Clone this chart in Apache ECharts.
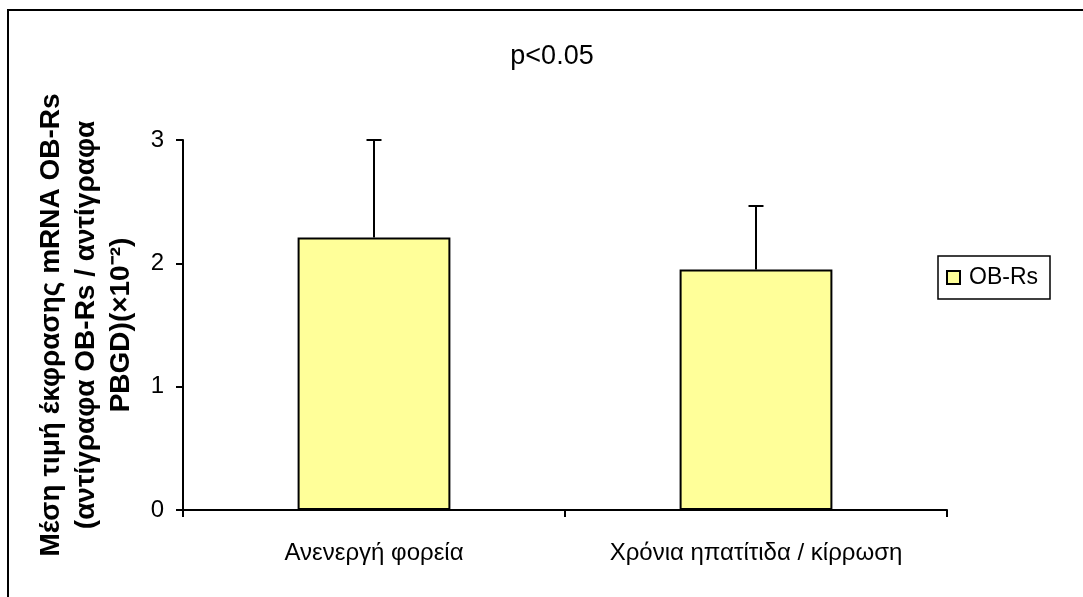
<!DOCTYPE html>
<html>
<head>
<meta charset="utf-8">
<script src="https://cdn.jsdelivr.net/npm/echarts@6/dist/echarts.min.js"></script>
<style>
  html, body { margin: 0; padding: 0; background: #fff; }
  #chart { width: 1083px; height: 597px; }
</style>
</head>
<body>
<div id="chart"></div>
<script>
// 数据
var categories = ['Ανενεργή φορεία', 'Χρόνια ηπατίτιδα / κίρρωση'];
var means = [2.21, 1.95];
var upperErr = [3.0, 2.465];   // μέση τιμή + SD
var yTicks = [0, 1, 2, 3];

var FONT = '"Liberation Sans", Arial, sans-serif';

var errData = [];
for (var i = 0; i < categories.length; i++) {
    errData.push([i, means[i], upperErr[i]]);
}

var chart = echarts.init(document.getElementById('chart'));
chart.setOption({
    animation: false,
    backgroundColor: '#fff',
    textStyle: { fontFamily: FONT, color: '#000' },
    title: {
        text: 'p<0.05',
        left: 547,
        top: 38,
        textAlign: 'center',
        textStyle: { fontFamily: FONT, fontSize: 27, fontWeight: 'normal', color: '#000' }
    },
    graphic: [{
        type: 'rect',
        shape: { x: 8, y: 10, width: 1200, height: 700 },
        style: { fill: 'none', stroke: '#000', lineWidth: 2 },
        silent: true
    }],
    legend: {
        data: ['OB-Rs'],
        left: 938,
        top: 256,
        orient: 'vertical',
        icon: 'rect',
        itemWidth: 13,
        itemHeight: 13,
        itemGap: 0,
        padding: [10, 12, 10, 8],
        borderColor: '#000',
        borderWidth: 1.5,
        selectedMode: false,
        textStyle: { fontFamily: FONT, fontSize: 23, color: '#000', padding: [0, 0, 0, 4] }
    },
    grid: { left: 183, right: 136, top: 140, bottom: 87, containLabel: false },
    xAxis: {
        type: 'category',
        data: categories,
        boundaryGap: true,
        axisLine: { lineStyle: { color: '#000', width: 2 } },
        axisTick: { show: true, length: 7, inside: false, alignWithLabel: false, lineStyle: { color: '#000', width: 2 } },
        axisLabel: { fontFamily: FONT, fontSize: 24, color: '#000', margin: 31 },
        splitLine: { show: false }
    },
    yAxis: {
        type: 'value',
        min: yTicks[0],
        max: yTicks[yTicks.length - 1],
        interval: 1,
        name: 'Μέση τιμή έκφρασης mRNA OB-Rs\n(αντίγραφα OB-Rs / αντίγραφα\nPBGD)(×10⁻²)',
        nameLocation: 'middle',
        nameGap: 44,
        nameTextStyle: { fontFamily: FONT, fontSize: 28, fontWeight: 'bold', color: '#000', lineHeight: 35, align: 'center' },
        axisLine: { show: true, lineStyle: { color: '#000', width: 2 } },
        axisTick: { show: true, length: 7, lineStyle: { color: '#000', width: 2 } },
        axisLabel: { fontFamily: FONT, fontSize: 24, color: '#000', margin: 19 },
        splitLine: { show: false }
    },
    series: [{
        name: 'OB-Rs',
        type: 'bar',
        data: means,
        barWidth: '40%',
        itemStyle: { color: '#FFFF99', borderColor: '#000', borderWidth: 2 },
        z: 2
    }, {
        type: 'custom',
        data: errData,
        z: 3,
        renderItem: function (params, api) {
            var base = api.coord([api.value(0), api.value(1)]);
            var top = api.coord([api.value(0), api.value(2)]);
            var half = 7.5;
            return {
                type: 'group',
                children: [{
                    type: 'line',
                    shape: { x1: base[0], y1: base[1], x2: top[0], y2: top[1] },
                    style: { stroke: '#000', lineWidth: 2 }
                }, {
                    type: 'line',
                    shape: { x1: top[0] - half, y1: top[1], x2: top[0] + half, y2: top[1] },
                    style: { stroke: '#000', lineWidth: 2 }
                }]
            };
        }
    }]
});
</script>
</body>
</html>
